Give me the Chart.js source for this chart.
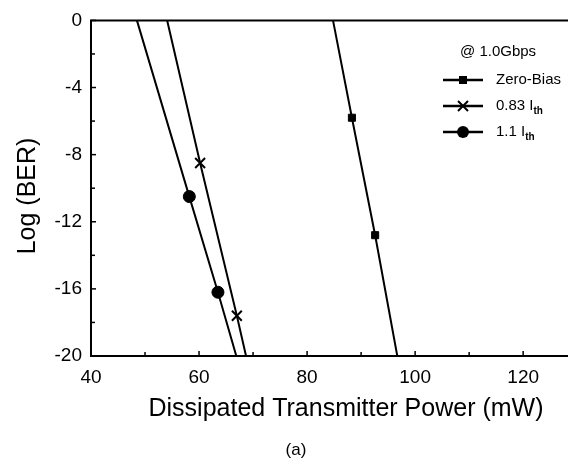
<!DOCTYPE html>
<html>
<head>
<meta charset="utf-8">
<script src="https://cdn.jsdelivr.net/npm/chart.js@4/dist/chart.umd.min.js"></script>
<style>
  html, body { margin: 0; padding: 0; background: #fff; }
  #wrap { width: 568px; height: 466px; position: relative; }
</style>
</head>
<body>
<div id="wrap"><canvas id="c" width="568" height="466"></canvas></div>
<script>
// ---- data ----
const xTitle = 'Dissipated Transmitter Power (mW)';
const yTitle = 'Log (BER)';
const legendTitle = '@ 1.0Gbps';
const seriesNames = ['Zero-Bias', '0.83 I', '1.1 I'];
const seriesSubs = ['', 'th', 'th'];

// fitted lines (end points on the frame) and measured markers
const zeroBiasX = [84.8, 88.3, 92.6, 96.7];
const zeroBiasY = [0, -5.8, -12.8, -20];
const ith083X = [54.1, 60.2, 67.0, 68.7];
const ith083Y = [0, -8.5, -17.6, -20];
const ith11X = [48.5, 58.2, 63.5, 66.9];
const ith11Y = [0, -10.5, -16.2, -20];
const isMarker = [false, true, true, false];

const xMin = 40, xMax = 128.3, xStep = 10, xLabelStep = 20;
const yMin = -20, yMax = 0, yStep = 2, yLabelStep = 4;

const FONT = '"Liberation Sans", Arial, Helvetica, sans-serif';

function pts(xs, ys) { return xs.map((x, i) => ({ x: x, y: ys[i] })); }

function ds(xs, ys, style, radius, bw) {
  return {
    data: pts(xs, ys),
    showLine: true,
    borderColor: '#000',
    backgroundColor: '#000',
    borderWidth: 2,
    pointStyle: style,
    pointRadius: isMarker.map(m => m ? radius : 0),
    pointBorderWidth: bw,
    pointBorderColor: '#000',
    pointBackgroundColor: '#000',
    tension: 0
  };
}

const framePlugin = {
  id: 'frame',
  afterDraw(chart) {
    const ctx = chart.ctx;
    const a = chart.chartArea;
    const xs = chart.scales.x, ys = chart.scales.y;
    ctx.save();
    ctx.strokeStyle = '#000';
    ctx.lineWidth = 2;
    // frame: left, bottom, top
    ctx.beginPath();
    ctx.moveTo(a.right + 2, a.top);
    ctx.lineTo(a.left, a.top);
    ctx.lineTo(a.left, a.bottom);
    ctx.lineTo(a.right + 2, a.bottom);
    ctx.stroke();
    // inward ticks
    ctx.lineWidth = 1.5;
    xs.ticks.forEach(t => {
      const px = xs.getPixelForValue(t.value);
      const major = Math.abs(t.value % xLabelStep) < 1e-6;
      const len = major ? 5 : 4;
      ctx.beginPath();
      ctx.moveTo(px, a.bottom);
      ctx.lineTo(px, a.bottom - len);
      ctx.stroke();
    });
    ys.ticks.forEach(t => {
      const py = ys.getPixelForValue(t.value);
      const major = Math.abs(t.value % yLabelStep) < 1e-6;
      const len = major ? 5 : 4;
      ctx.beginPath();
      ctx.moveTo(a.left, py);
      ctx.lineTo(a.left + len, py);
      ctx.stroke();
    });

    // axis titles
    ctx.fillStyle = '#000';
    ctx.font = '25px ' + FONT;
    ctx.textAlign = 'center';
    ctx.textBaseline = 'alphabetic';
    ctx.fillText(xTitle, 346, 416);
    ctx.save();
    ctx.translate(35, 196);
    ctx.rotate(-Math.PI / 2);
    ctx.fillText(yTitle, 0, 0);
    ctx.restore();
    ctx.font = '17px ' + FONT;
    ctx.textBaseline = 'middle';
    ctx.fillText('(a)', 296, 450);

    // legend
    ctx.font = '15px ' + FONT;
    ctx.textAlign = 'left';
    ctx.textBaseline = 'middle';
    ctx.fillText(legendTitle, 460, 52);
    const rowsY = [80, 106, 132];
    const styles = ['rect', 'crossRot', 'circle'];
    for (let i = 0; i < 3; i++) {
      const y = rowsY[i];
      ctx.strokeStyle = '#000';
      ctx.lineWidth = 2.5;
      ctx.beginPath();
      ctx.moveTo(443, y);
      ctx.lineTo(483, y);
      ctx.stroke();
      const mx = 463;
      ctx.fillStyle = '#000';
      if (styles[i] === 'rect') {
        ctx.fillRect(mx - 4, y - 4, 8, 8);
      } else if (styles[i] === 'crossRot') {
        ctx.lineWidth = 2;
        ctx.beginPath();
        ctx.moveTo(mx - 5, y - 5); ctx.lineTo(mx + 5, y + 5);
        ctx.moveTo(mx - 5, y + 5); ctx.lineTo(mx + 5, y - 5);
        ctx.stroke();
      } else {
        ctx.beginPath();
        ctx.arc(mx, y, 6, 0, Math.PI * 2);
        ctx.fill();
      }
      ctx.font = '15px ' + FONT;
      const tx = 496;
      ctx.fillText(seriesNames[i], tx, y);
      if (seriesSubs[i]) {
        const w = ctx.measureText(seriesNames[i]).width;
        ctx.font = 'bold 10px ' + FONT;
        ctx.fillText(seriesSubs[i], tx + w, y + 5);
      }
    }
    ctx.restore();
  }
};

new Chart(document.getElementById('c'), {
  type: 'scatter',
  data: {
    datasets: [
      ds(zeroBiasX, zeroBiasY, 'rect', 5, 1),
      ds(ith083X, ith083Y, 'crossRot', 7, 2),
      ds(ith11X, ith11Y, 'circle', 6, 1)
    ]
  },
  options: {
    responsive: false,
    devicePixelRatio: 1,
    animation: false,
    layout: { padding: { top: 18, left: 0, right: 0, bottom: 0 } },
    plugins: { legend: { display: false }, tooltip: { enabled: false } },
    scales: {
      x: {
        type: 'linear',
        min: xMin, max: xMax,
        afterFit(s) { s.height = 110; },
        grid: { display: false, drawTicks: false },
        border: { display: false },
        ticks: {
          stepSize: xStep,
          includeBounds: false,
          maxRotation: 0,
          autoSkip: false,
          padding: 10,
          color: '#000',
          font: { family: FONT, size: 19 },
          callback: v => (Math.abs(v % xLabelStep) < 1e-6 ? String(v) : '')
        }
      },
      y: {
        type: 'linear',
        min: yMin, max: yMax,
        afterFit(s) { s.width = 91; },
        grid: { display: false, drawTicks: false },
        border: { display: false },
        ticks: {
          stepSize: yStep,
          autoSkip: false,
          padding: 9,
          color: '#000',
          font: { family: FONT, size: 19 },
          callback: v => (Math.abs(v % yLabelStep) < 1e-6 ? String(v) : '')
        }
      }
    }
  },
  plugins: [framePlugin]
});
</script>
</body>
</html>
